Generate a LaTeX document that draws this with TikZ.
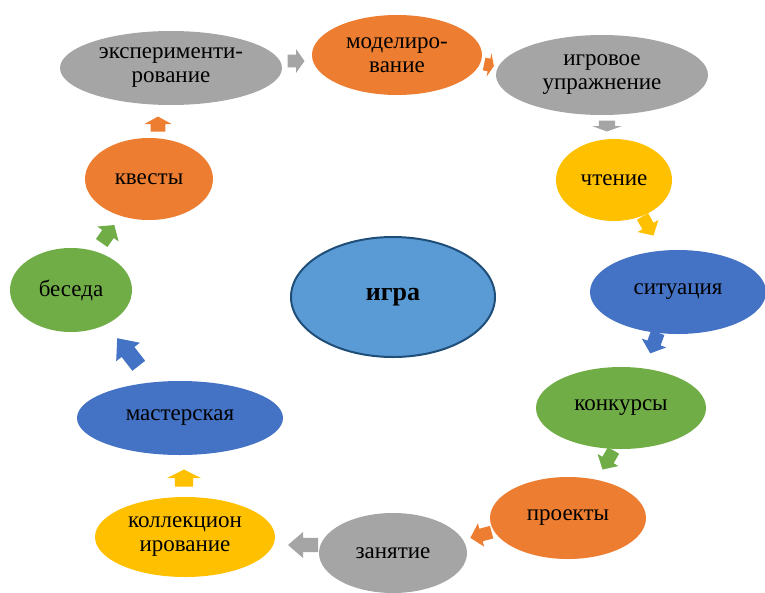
\documentclass[tikz,border=0pt]{standalone}
\usepackage{fontspec}
\setmainfont{Liberation Serif}
\usetikzlibrary{shapes.geometric}
\definecolor{cgray}{HTML}{A5A5A5}
\definecolor{corange}{HTML}{ED7D31}
\definecolor{cyellow}{HTML}{FFC000}
\definecolor{cblue}{HTML}{4472C4}
\definecolor{cgreen}{HTML}{70AD47}
\definecolor{ccenter}{HTML}{5B9BD5}
\definecolor{cborder}{HTML}{1F4E79}
\newcommand{\blockarr}[6]{%
  \fill[#6,shift={(#1,#2)},rotate=-#3]
    ({-#4/2},{-0.27*#5}) -- ({#4/2-0.5*#4},{-0.27*#5}) -- ({#4/2-0.5*#4},{-#5/2}) --
    ({#4/2},0) -- ({#4/2-0.5*#4},{#5/2}) -- ({#4/2-0.5*#4},{0.27*#5}) --
    ({-#4/2},{0.27*#5}) -- cycle;}
\begin{document}
\begin{tikzpicture}[x=1pt,y=-1pt,
  bub/.style={ellipse,inner sep=0pt,align=center,text=black,
    font=\fontsize{23}{24}\selectfont},
]
\useasboundingbox (0,0) rectangle (765,592);
\begin{scope}
\clip (0,0) rectangle (765,592);
\node[bub,fill=cgray,minimum width=222,minimum height=74] (n1) at (171,68) {эксперименти-\\рование};
\node[bub,fill=corange,minimum width=170,minimum height=80] (n2) at (397,55) {моделиро-\\вание};
\node[bub,fill=cgray,minimum width=212,minimum height=80] (n3) at (602,75) {игровое\\упражнение};
\node[bub,fill=cyellow,minimum width=116,minimum height=82] (n4) at (614,180) {чтение};
\node[bub,fill=cblue,minimum width=176,minimum height=84] (n5) at (678,292) {ситуация};
\node[bub,fill=cgreen,minimum width=170,minimum height=82] (n6) at (621,408) {конкурсы};
\node[bub,fill=corange,minimum width=156,minimum height=82] (n7) at (568,518) {проекты};
\node[bub,fill=cgray,minimum width=148,minimum height=80] (n8) at (393,553) {занятие};
\node[bub,fill=cyellow,minimum width=180,minimum height=80] (n9) at (185,537) {коллекцион\\ирование};
\node[bub,fill=cblue,minimum width=206,minimum height=74] (n10) at (180,418) {мастерская};
\node[bub,fill=cgreen,minimum width=122,minimum height=84] (n11) at (71,290) {беседа};
\node[bub,fill=corange,minimum width=128,minimum height=82] (n12) at (149,179) {квесты};
\node[bub,fill=ccenter,draw=cborder,line width=2pt,minimum width=204,minimum height=120,
  font=\fontsize{26}{28}\selectfont\bfseries] (c) at (393,297) {игра};
\end{scope}
\blockarr{296}{61}{0}{17}{24}{cgray}
\blockarr{489}{65}{12}{10}{24}{corange}
\blockarr{607}{126}{90}{11}{30}{cgray}
\blockarr{648}{226}{60}{22}{24}{cyellow}
\blockarr{654}{343}{110}{22}{26}{cblue}
\blockarr{608}{460}{120}{22}{24}{cgreen}
\blockarr{481}{535}{165}{22}{24}{corange}
\blockarr{303}{545}{180}{30}{26}{cgray}
\blockarr{184}{478}{270}{17}{34}{cyellow}
\blockarr{128}{352}{232}{35}{30}{cblue}
\blockarr{108}{234}{305}{22}{26}{cgreen}
\blockarr{158}{124}{270}{15}{27}{corange}
\end{tikzpicture}
\end{document}
